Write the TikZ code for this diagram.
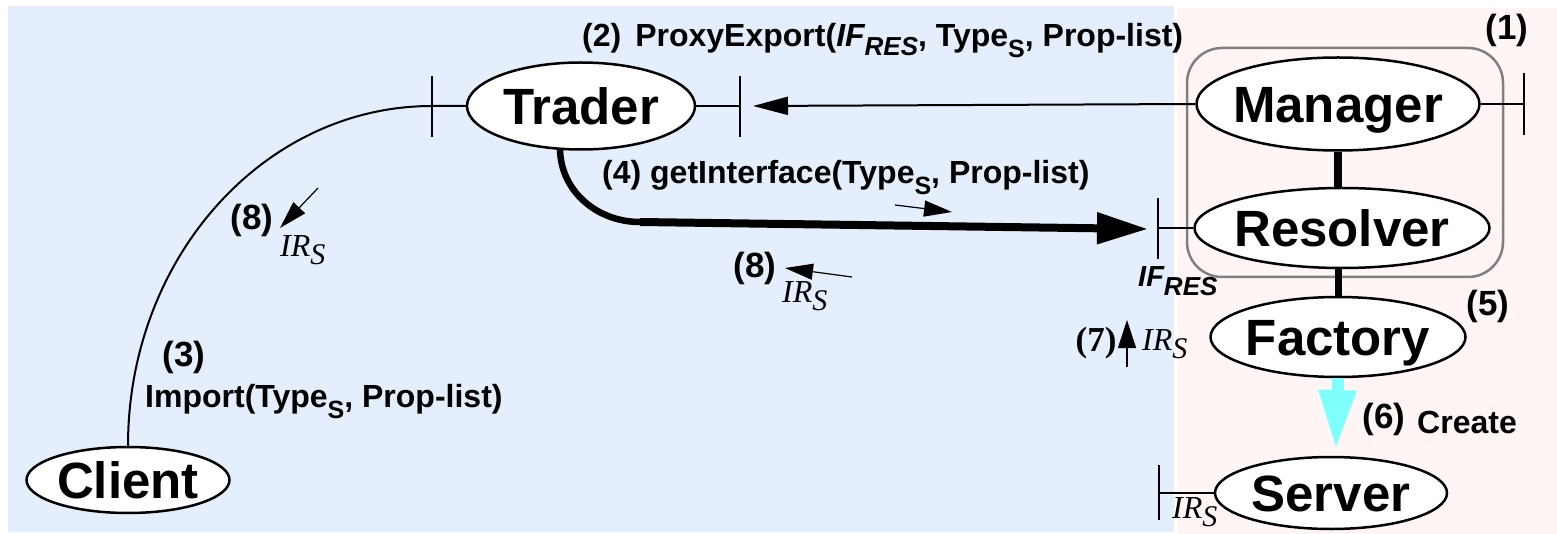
\documentclass[tikz,border=0pt]{standalone}
\usepackage{fontspec}
\setmainfont{Liberation Sans}
\newfontfamily\tms{Liberation Serif}
\usetikzlibrary{shapes.geometric,arrows.meta}

\definecolor{bgblue}{RGB}{228,238,252}
\definecolor{bgpink}{RGB}{255,245,245}
\definecolor{cyanarrow}{RGB}{128,255,255}
\definecolor{boxgray}{RGB}{128,128,128}

\newcommand{\fs}[1]{\fontsize{#1}{#1}\selectfont}
\newcommand{\ctext}[1]{\raisebox{-0.358em}[0pt][0pt]{\makebox[0pt]{#1}}}
\newcommand{\subsans}[1]{\raisebox{-11pt}{\fs{25}#1}}
\newcommand{\irs}{{\tms\itshape\fs{32}IR\raisebox{-8pt}{\fs{30}S}}}
\newcommand{\ifres}{{\itshape IF\raisebox{-9pt}{\fs{26}RES}}}

\begin{document}
\begin{tikzpicture}[x=1pt,y=-1pt,
  comp/.style={ellipse, draw, line width=2.5pt, fill=white, inner sep=0pt, font=\bfseries\fs{51}},
  conn/.style={line width=2pt},
  tickln/.style={line width=2pt},
  thinarr/.style={line width=1.2pt, -{Triangle[length=28pt,width=16pt]}},
  lbl/.style={inner sep=0pt, font=\bfseries\fs{32}},
  num/.style={inner sep=0pt, font=\bfseries\fs{35}}
]
\useasboundingbox (0,0) rectangle (1557,534);
% backgrounds
\fill[bgblue] (8,6) rectangle (1174,532);
\fill[bgpink] (1177,8) rectangle (1557,534);
% gray box
\draw[boxgray, line width=2.5pt, rounded corners=35pt] (1187,48) rectangle (1503,277);

% nodes
\node[comp, minimum width=228pt, minimum height=87pt] (trader) at (581,106) {\ctext{Trader}};
\node[comp, minimum width=283pt, minimum height=93pt] (manager) at (1338,104) {\ctext{Manager}};
\node[comp, minimum width=295pt, minimum height=80pt] (resolver) at (1342,228) {\ctext{Resolver}};
\node[comp, minimum width=255pt, minimum height=80pt] (factory) at (1338,337) {\ctext{Factory}};
\node[comp, minimum width=232pt, minimum height=72pt] (server) at (1331,493) {\ctext{Server}};
\node[comp, minimum width=203pt, minimum height=66pt] (client) at (128,480) {\ctext{Client}};

% tick coordinates
\coordinate (tl) at (432,106);
\coordinate (tr) at (740,106);
\coordinate (trtip) at (753,106);
\coordinate (mr) at (1524,104);
\coordinate (rt) at (1158,228);
\coordinate (st) at (1159,493);
\coordinate (tb) at (560,148);
\coordinate (bend) at (640,222);
\coordinate (ftip) at (1148,229);
\coordinate (cytip) at (1336,450);

% ticks
\draw[tickln] ([yshift=30pt]tl) -- ([yshift=-31pt]tl);
\draw[tickln] ([yshift=30pt]tr) -- ([yshift=-31pt]tr);
\draw[tickln] ([yshift=31pt]mr) -- ([yshift=-31pt]mr);
\draw[tickln] ([yshift=30pt]rt) -- ([yshift=-31pt]rt);
\draw[tickln] ([yshift=28pt]st) -- ([yshift=-27pt]st);

% connectors
\draw[conn] (client.north) .. controls +(0,-188) and +(-168,0) .. (tl) -- (trader.west);
\draw[conn] (trader.east) -- (tr);
\draw[conn, -{Triangle[length=35pt,width=18pt]}] (manager.west) -- (trtip);
\draw[conn] (manager.east) -- (mr);
\draw[conn] (resolver.west) -- (rt);
\draw[conn] (server.west) -- (st);
\draw[line width=8pt] (manager.south) -- (manager.south |- resolver.north);
\draw[line width=7pt] (factory.north |- resolver.south) -- (factory.north);
\draw[line width=6.5pt] (tb) .. controls +(0,42) and +(-44,0) .. (bend);
\draw[line width=8pt, -{Triangle[length=51pt,width=30pt]}] (bend) -- (ftip);
\draw[cyanarrow, line width=12pt, -{Triangle[length=60pt,width=35pt]}] (factory.south) -- (cytip);

% small arrows
\coordinate (a1t) at (318,188); \coordinate (a1h) at (280,228);
\coordinate (a2t) at (852,277); \coordinate (a2h) at (785,268);
\coordinate (a3t) at (895,205); \coordinate (a3h) at (952,212);
\coordinate (a4t) at (1127,367); \coordinate (a4h) at (1127,320);
\draw[thinarr] (a1t) -- (a1h);
\draw[thinarr] (a2t) -- (a2h);
\draw[thinarr] (a3t) -- (a3h);
\draw[thinarr, -{Triangle[length=28pt,width=18pt]}] (a4t) -- (a4h);

% labels
\node[lbl, anchor=base west] (l2) at (582,47) {(2)\hspace{14pt}ProxyExport(\ifres, Type\subsans{S}, Prop-list)};
\node[lbl, anchor=base west] (l4) at (602,184) {(4) getInterface(Type\subsans{S}, Prop-list)};
\node[num] (n3) at (184,357) {(3)};
\node[lbl, anchor=base west] (l3) at (145,407) {Import(Type\subsans{S}, Prop-list)};
\node[num] (n1) at (1507,30) {(1)};
\node[num] (n5) at (1488,306) {(5)};
\node[num] (n6) at (1384,419) {(6)};
\node[lbl, anchor=base west] (l6) at (1417,433) {Create};
\node[num] (n8a) at (252,220) {(8)};
\node[inner sep=0pt, anchor=base west] (i8a) at (280,257) {\irs};
\node[num] (n8b) at (755,268) {(8)};
\node[inner sep=0pt, anchor=base west] (i8b) at (782,303) {\irs};
\node[lbl, anchor=base west, font=\bfseries\fs{29}] (ifr) at (1138,287) {\ifres};
\node[inner sep=0pt, font=\tms\bfseries\fs{35}] (n7) at (1096,343) {(7)};
\node[inner sep=0pt, anchor=base west] (i7) at (1142,350) {\irs};
\node[inner sep=0pt, anchor=base west] (is) at (1172,518) {\irs};
\end{tikzpicture}
\end{document}
